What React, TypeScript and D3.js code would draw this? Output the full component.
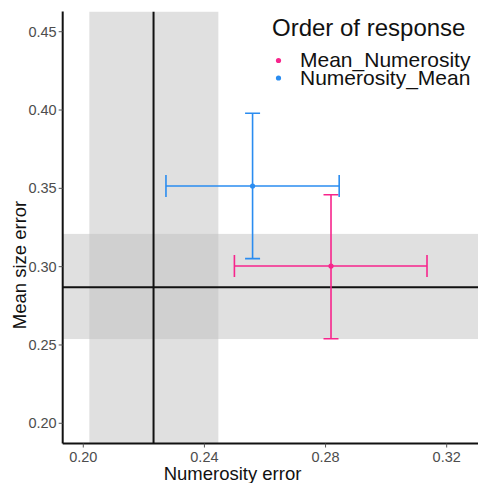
import React from "react";
import * as d3 from "d3";

const groups = ["Mean_Numerosity", "Numerosity_Mean"];
const groupColors = ["#F7258C", "#2A8CF0"];
const numerosityMean = [0.2818, 0.2559];
const numerosityLow = [0.2499, 0.2273];
const numerosityHigh = [0.3135, 0.2845];
const sizeMean = [0.3004, 0.3515];
const sizeLow = [0.254, 0.3051];
const sizeHigh = [0.3459, 0.3979];

const refNumerosity = 0.2232;
const refNumerosityBand = [0.202, 0.2446];
const refSize = 0.2868;
const refSizeBand = [0.2538, 0.3209];

const xTicks = [0.2, 0.24, 0.28, 0.32];
const yTicks = [0.2, 0.25, 0.3, 0.35, 0.4, 0.45];

const W = 478;
const H = 483;
const left = 62.7;
const right = 478;
const top = 11.5;
const bottom = 443.5;

export default function App() {
  const x = d3.scaleLinear().domain([0.1932, 0.33034]).range([left, right]);
  const y = d3.scaleLinear().domain([0.1871, 0.4629]).range([bottom, top]);
  const font = "'Liberation Sans', Arial, sans-serif";
  const capV = 7.5;
  const capH = 11;

  return (
    <svg
      width={W}
      height={H}
      style={{ position: "absolute", left: 0, top: 0, background: "#fff" }}
      fontFamily={font}
    >
      <defs>
        <clipPath id="plot">
          <rect x={left} y={top} width={right - left} height={bottom - top} />
        </clipPath>
      </defs>
      <g clipPath="url(#plot)">
        <rect
          x={x(refNumerosityBand[0])}
          y={top}
          width={x(refNumerosityBand[1]) - x(refNumerosityBand[0])}
          height={bottom - top}
          fill="#bfbfbf"
          fillOpacity={0.48}
        />
        <rect
          x={left}
          y={y(refSizeBand[1])}
          width={right - left}
          height={y(refSizeBand[0]) - y(refSizeBand[1])}
          fill="#bfbfbf"
          fillOpacity={0.48}
        />
        <line x1={x(refNumerosity)} x2={x(refNumerosity)} y1={top} y2={bottom} stroke="#111" strokeWidth={2} />
        <line x1={left} x2={right} y1={y(refSize)} y2={y(refSize)} stroke="#111" strokeWidth={2} />
        {groups.map((g, i) => {
          const c = groupColors[i];
          const cx = x(numerosityMean[i]);
          const cy = y(sizeMean[i]);
          return (
            <g key={g} stroke={c} strokeWidth={1.6} fill="none">
              <line x1={cx} x2={cx} y1={y(sizeLow[i])} y2={y(sizeHigh[i])} />
              <line x1={cx - capV} x2={cx + capV} y1={y(sizeLow[i])} y2={y(sizeLow[i])} />
              <line x1={cx - capV} x2={cx + capV} y1={y(sizeHigh[i])} y2={y(sizeHigh[i])} />
              <line x1={x(numerosityLow[i])} x2={x(numerosityHigh[i])} y1={cy} y2={cy} />
              <line x1={x(numerosityLow[i])} x2={x(numerosityLow[i])} y1={cy - capH} y2={cy + capH} />
              <line x1={x(numerosityHigh[i])} x2={x(numerosityHigh[i])} y1={cy - capH} y2={cy + capH} />
              <circle cx={cx} cy={cy} r={2.6} fill={c} stroke="none" />
            </g>
          );
        })}
      </g>
      {/* axes */}
      <line x1={left} x2={left} y1={top} y2={bottom} stroke="#111" strokeWidth={2} />
      <line x1={left} x2={right} y1={bottom} y2={bottom} stroke="#111" strokeWidth={2} />
      {yTicks.map((t) => (
        <g key={"y" + t}>
          <line x1={left - 4} x2={left} y1={y(t)} y2={y(t)} stroke="#555" strokeWidth={1} />
          <text x={left - 6} y={y(t)} dy="0.35em" textAnchor="end" fontSize={14.5} fill="#4d4d4d">
            {t.toFixed(2)}
          </text>
        </g>
      ))}
      {xTicks.map((t) => (
        <g key={"x" + t}>
          <line x1={x(t)} x2={x(t)} y1={bottom} y2={bottom + 4} stroke="#555" strokeWidth={1} />
          <text x={x(t)} y={bottom + 18} textAnchor="middle" fontSize={14.5} fill="#4d4d4d">
            {t.toFixed(2)}
          </text>
        </g>
      ))}
      <text x={232.5} y={480} textAnchor="middle" fontSize={18.5} fill="#111">
        Numerosity error
      </text>
      <text
        transform={`translate(26,265) rotate(-90)`}
        textAnchor="middle"
        fontSize={18.5}
        fill="#111"
      >
        Mean size error
      </text>
      {/* legend */}
      <text x={272} y={36} fontSize={24} fill="#111">
        Order of response
      </text>
      {groups.map((g, i) => (
        <g key={"lg" + g}>
          <circle cx={278.5} cy={60.5 + i * 17.5} r={2.6} fill={groupColors[i]} />
          <text x={300} y={67 + i * 17.5} fontSize={21} fill="#111">
            {g}
          </text>
        </g>
      ))}
    </svg>
  );
}
